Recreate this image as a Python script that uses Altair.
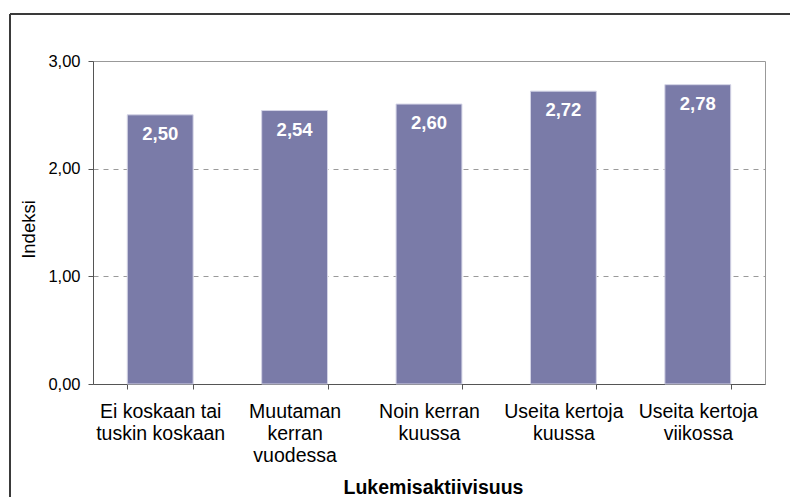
import altair as alt
import pandas as pd

categories = [
    "Ei koskaan tai tuskin koskaan",
    "Muutaman kerran vuodessa",
    "Noin kerran kuussa",
    "Useita kertoja kuussa",
    "Useita kertoja viikossa",
]
label_lines = [
    ["Ei koskaan tai", "tuskin koskaan"],
    ["Muutaman", "kerran", "vuodessa"],
    ["Noin kerran", "kuussa"],
    ["Useita kertoja", "kuussa"],
    ["Useita kertoja", "viikossa"],
]
values = [2.50, 2.54, 2.60, 2.72, 2.78]
y_ticks = [0, 1, 2, 3]

df = pd.DataFrame({"cat": categories, "val": values})
df["txt"] = [f"{v:.2f}".replace(".", ",") for v in values]

lookup = "{" + ",".join(
    '"' + c + '":[' + ",".join('"' + l + '"' for l in ls) + "]"
    for c, ls in zip(categories, label_lines)
) + "}"

FONT = "Liberation Sans"
BAR = "#7a7ba8"

x_enc = alt.X(
    "cat:N",
    sort=categories,
    scale=alt.Scale(paddingInner=0.51, paddingOuter=0.255),
    axis=alt.Axis(
        title="Lukemisaktiivisuus",
        labelAngle=0,
        labelExpr=lookup + "[datum.label]",
        labelFont=FONT,
        labelFontSize=19.5,
        labelColor="#000000",
        labelLineHeight=22,
        labelPadding=13,
        labelBaseline="top",
        tickBand="extent",
        tickSize=5,
        tickColor="#555555",
        domainColor="#555555",
        titleFont=FONT,
        titleFontSize=19.5,
        titleFontWeight="bold",
        titleColor="#000000",
        titleX=340,
        titleY=103,
        titleBaseline="middle",
        grid=False,
    ),
)

y_enc = alt.Y(
    "val:Q",
    scale=alt.Scale(domain=[0, 3], nice=False),
    axis=alt.Axis(
        title="Indeksi",
        values=y_ticks,
        labelExpr="replace(format(datum.value, '.2f'), '.', ',')",
        labelFont=FONT,
        labelFontSize=16.5,
        labelColor="#000000",
        labelPadding=8,
        tickSize=5,
        tickColor="#555555",
        domainColor="#555555",
        grid=True,
        gridColor="#9a9a9a",
        gridDash=[5, 5],
        gridOpacity={"condition": {"test": "datum.value == 1 || datum.value == 2", "value": 1}, "value": 0},
        titleFont=FONT,
        titleFontSize=18.5,
        titleFontWeight="normal",
        titleColor="#000000",
        titleAngle=-90,
        titleX=-65,
        titleY=168,
        titleBaseline="middle",
        titleAlign="center",
    ),
)

base = alt.Chart(df)

bars = base.mark_bar(color=BAR, stroke="#d4d4e6", strokeWidth=1).encode(x=x_enc, y=y_enc)

labels = base.mark_text(
    color="white", font=FONT, fontSize=18.5, fontWeight="bold", baseline="middle", dy=19
).encode(x=alt.X("cat:N", sort=categories), y=alt.Y("val:Q"), text="txt:N")

frame_top = alt.Chart(df).mark_rule(color="#3a3a3a", strokeWidth=2).encode(
    x=alt.value(-83), x2=alt.value(760), y=alt.value(-47)
)
frame_left = alt.Chart(df).mark_rule(color="#3a3a3a", strokeWidth=2).encode(
    x=alt.value(-83), y=alt.value(-47), y2=alt.value(460)
)

chart = (
    alt.layer(frame_top, frame_left, bars, labels)
    .properties(
        width=672,
        height=323,
        autosize=alt.AutoSizeParams(type="none"),
        padding={"left": 85, "top": 53, "right": 25, "bottom": 113},
        background="white",
    )
    .configure_view(stroke="#999999", strokeWidth=1)
)

chart.save("out.html", embed_options={"renderer": "svg", "actions": False})
